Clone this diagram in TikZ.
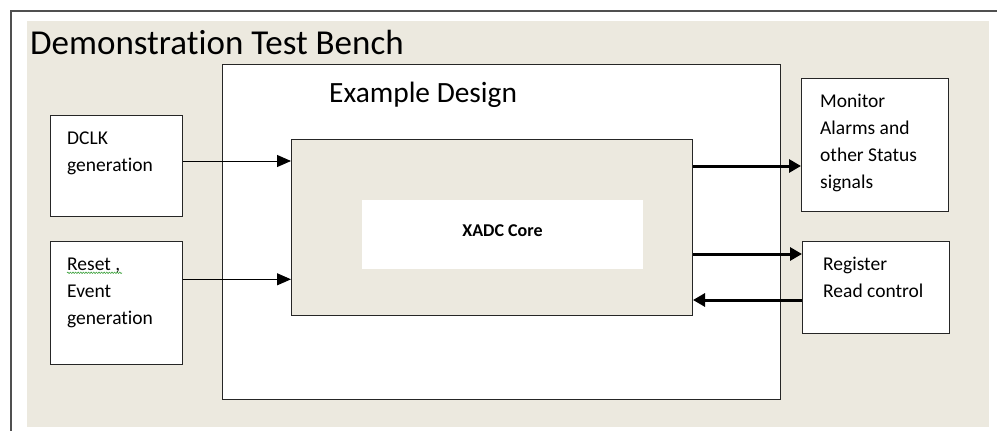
\documentclass[tikz,border=0pt]{standalone}
\usepackage{fontspec}
\setmainfont{Carlito}[Ligatures=NoCommon]
\usetikzlibrary{arrows.meta,decorations.pathmorphing}
\definecolor{bench}{HTML}{ECE9DF}
\definecolor{framegray}{HTML}{505050}
\definecolor{wavegreen}{HTML}{3FA33F}
\begin{document}
\begin{tikzpicture}[x=1pt,y=-1pt,
  blk/.style={draw=black!85, line width=1pt, inner sep=0, anchor=north west},
  txt/.style={inner sep=0, anchor=base west, align=flush left, text width=135pt,
              font=\fontsize{19.5}{27.3}\selectfont},
  thinarrow/.style={line width=1pt, -{Triangle[length=14pt,width=12pt]}},
  thickarrow/.style={line width=3pt, -{Triangle[length=12pt,width=13pt]}}]
\useasboundingbox (0,0) rectangle (997,431);
% test bench background and frame
\fill[bench] (27,21) rectangle (989,427);
\draw[framegray, line width=1.3pt] (11,431) -- (11,11) -- (997,11);
\node[inner sep=0, anchor=base west, font=\fontsize{35}{42}\selectfont] (title) at (30,54.5) {Demonstration Test Bench};
% example design
\node[blk, fill=white, minimum width=558pt, minimum height=335pt] (design) at (222,64) {};
\node[inner sep=0, anchor=base west, font=\fontsize{29.4}{35}\selectfont] (designlabel) at (329,102) {Example Design};
% XADC core
\node[blk, fill=bench, minimum width=401pt, minimum height=176pt] (core) at (291,139) {};
\node[fill=white, inner sep=0, minimum width=281pt, minimum height=69pt, anchor=north west] (coreinner) at (362,200) {};
\node[inner sep=0, anchor=base, font=\bfseries\fontsize{18}{21}\selectfont] (corelabel) at (502.5,236) {XADC Core};
% left blocks
\node[blk, fill=white, minimum width=132pt, minimum height=101pt] (dclk) at (50,115) {};
\node[txt] (dclktext) at (67,144) {DCLK\\generation};
\node[blk, fill=white, minimum width=132pt, minimum height=123pt] (reset) at (50,241) {};
\node[txt] (resettext) at (67,270) {Reset ,\\Event\\generation};
\draw[wavegreen, line width=0.6pt, decorate, decoration={snake, amplitude=0.7pt, segment length=2.6pt}]
  ([yshift=-2.8pt]resettext.base west) -- ++(55,0);
% right blocks
\node[blk, fill=white, minimum width=147pt, minimum height=133pt] (monitor) at (801,78) {};
\node[txt] (montext) at (820,107) {Monitor\\Alarms and\\other Status\\signals};
\node[blk, fill=white, minimum width=147pt, minimum height=92pt] (register) at (802,241) {};
\node[txt] (regtext) at (823,270) {Register\\Read control};
% connectors
\coordinate (ya) at (0,161);
\coordinate (yb) at (0,279.3);
\coordinate (yc) at (0,166);
\coordinate (yd) at (0,254);
\coordinate (ye) at (0,300);
\draw[thinarrow] (dclk.east |- ya) -- (core.west |- ya);
\draw[thinarrow] (reset.east |- yb) -- (core.west |- yb);
\draw[thickarrow] (core.east |- yc) -- (monitor.west |- yc);
\draw[thickarrow] (core.east |- yd) -- (register.west |- yd);
\draw[thickarrow] (register.west |- ye) -- (core.east |- ye);
\end{tikzpicture}
\end{document}
